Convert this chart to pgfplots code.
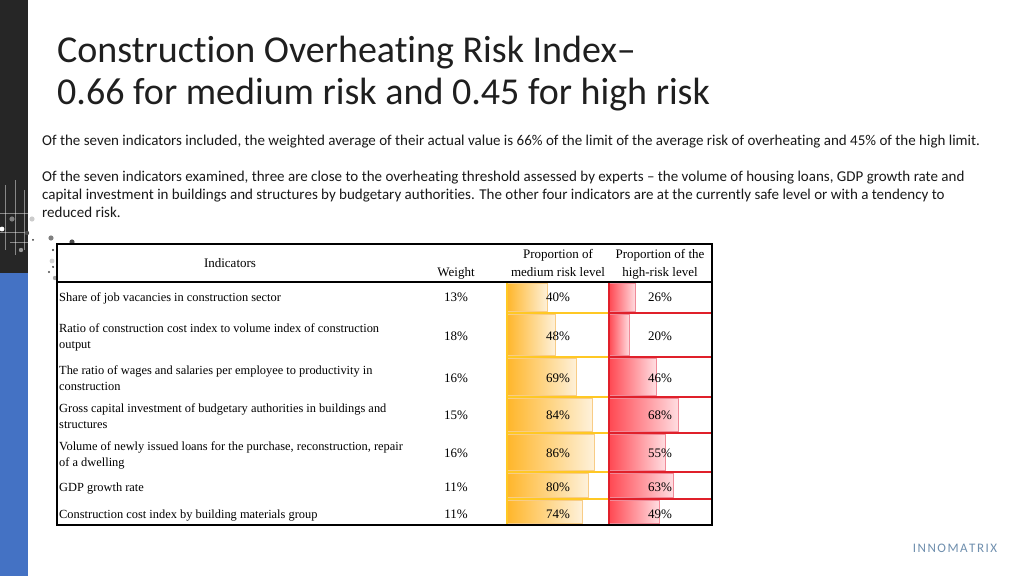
\documentclass[border=0pt]{standalone}
\usepackage{fontspec}
\setmainfont{Carlito}[Ligatures={NoCommon}]
\newfontfamily\tnr{Liberation Serif}
\usepackage{pgfplots}
\pgfplotsset{compat=1.18}
\definecolor{darkbar}{HTML}{262626}
\definecolor{bluebar}{HTML}{4472C4}
\definecolor{medL}{HTML}{FFB62A}
\definecolor{medR}{HTML}{FEF1DA}
\definecolor{medB}{HTML}{F8CC86}
\definecolor{hiL}{HTML}{FF4852}
\definecolor{hiR}{HTML}{FFDDE1}
\definecolor{hiB}{HTML}{F08A98}
\definecolor{sepY}{HTML}{FFC824}
\definecolor{sepR}{HTML}{E0202A}
\definecolor{logoc}{HTML}{6F8FAE}
\begin{document}
\begin{tikzpicture}[x=1pt,y=1pt]
\path[fill=white,use as bounding box] (0,0) rectangle (1024,576);
% left decoration
\fill[darkbar] (0,{576-273}) rectangle (28,576);
\fill[bluebar] (0,0) rectangle (28,{576-273});
\begin{scope}[white,opacity=0.45,line width=0.4pt]
\draw (5,{576-185}) -- (5,{576-250});
\draw (15,{576-180}) -- (15,{576-255});
\draw (24,{576-190}) -- (24,{576-250});
\draw (0,{576-213}) -- (30,{576-213});
\draw (0,{576-232}) -- (28,{576-232});
\draw (10,{576-242}) -- (28,{576-242});
\end{scope}
\fill[white] (2,{576-229}) circle (2.4);
\foreach \px/\py/\r/\c in {12/219/2.6/gray,32/219/2.6/gray!40,27/233/2.2/black!70,33/240/1.0/black!80,21/250/2.2/gray!80,51/238/2.6/gray,72/242/2.6/black!70,53/250/1.1/black!80,52/261/2.4/gray!35,49/272/1.1/black!70,55/278/2.2/gray!70,53/267/1.0/black!80}{
  \fill[\c] (\px,{576-\py}) circle (\r);
}
% title
\node[anchor=base west,inner sep=0pt,text=black!88,font=\fontsize{38}{44}\selectfont] at (57,{576-63}) {Construction Overheating Risk Index–};
\node[anchor=base west,inner sep=0pt,text=black!88,font=\fontsize{38}{44}\selectfont] at (57,{576-105}) {0.66 for medium risk and 0.45 for high risk};
% paragraphs
\begin{scope}[every node/.style={anchor=base west,inner sep=0pt,text=black!90,font=\fontsize{15}{18}\selectfont}]
\node at (42,{576-146}) {Of the seven indicators included, the weighted average of their actual value is 66\% of the limit of the average risk of overheating and 45\% of the high limit.};
\node at (42,{576-182}) {Of the seven indicators examined, three are close to the overheating threshold assessed by experts -- the volume of housing loans, GDP growth rate and};
\node at (42,{576-200}) {capital investment in buildings and structures by budgetary authorities. The other four indicators are at the currently safe level or with a tendency to};
\node at (42,{576-218}) {reduced risk.};
\end{scope}
% bars
\begin{axis}[at={(507pt,294pt)},anchor=north west,scale only axis,width=102pt,height=243pt,
  xmin=0,xmax=101,ymin=282,ymax=525,y dir=reverse,hide axis,clip=false]
\addplot[xbar,bar shift=0pt,bar width=28,left color=medL,right color=medR,draw=medB] coordinates {(40,297)};
\addplot[xbar,bar shift=0pt,bar width=41,left color=medL,right color=medR,draw=medB] coordinates {(48,334.5)};
\addplot[xbar,bar shift=0pt,bar width=37,left color=medL,right color=medR,draw=medB] coordinates {(69,376.5)};
\addplot[xbar,bar shift=0pt,bar width=33,left color=medL,right color=medR,draw=medB] coordinates {(84,414.5)};
\addplot[xbar,bar shift=0pt,bar width=36,left color=medL,right color=medR,draw=medB] coordinates {(86,452)};
\addplot[xbar,bar shift=0pt,bar width=24,left color=medL,right color=medR,draw=medB] coordinates {(80,485)};
\addplot[xbar,bar shift=0pt,bar width=23,left color=medL,right color=medR,draw=medB] coordinates {(74,511.5)};
\end{axis}
\begin{axis}[at={(609pt,294pt)},anchor=north west,scale only axis,width=103pt,height=243pt,
  xmin=0,xmax=101,ymin=282,ymax=525,y dir=reverse,hide axis,clip=false]
\addplot[xbar,bar shift=0pt,bar width=28,left color=hiL,right color=hiR,draw=hiB] coordinates {(26,297)};
\addplot[xbar,bar shift=0pt,bar width=41,left color=hiL,right color=hiR,draw=hiB] coordinates {(20,334.5)};
\addplot[xbar,bar shift=0pt,bar width=37,left color=hiL,right color=hiR,draw=hiB] coordinates {(46,376.5)};
\addplot[xbar,bar shift=0pt,bar width=33,left color=hiL,right color=hiR,draw=hiB] coordinates {(68,414.5)};
\addplot[xbar,bar shift=0pt,bar width=36,left color=hiL,right color=hiR,draw=hiB] coordinates {(55,452)};
\addplot[xbar,bar shift=0pt,bar width=24,left color=hiL,right color=hiR,draw=hiB] coordinates {(63,485)};
\addplot[xbar,bar shift=0pt,bar width=23,left color=hiL,right color=hiR,draw=hiB] coordinates {(49,511.5)};
\end{axis}
% grid lines in data columns
\foreach \py in {313,357,397,433,472,499}{
  \draw[sepY,line width=1.2pt] (507,{576-\py}) -- (609,{576-\py});
  \draw[sepR,line width=1.2pt] (609,{576-\py}) -- (712,{576-\py});
}
\draw[sepY,line width=1.2pt] (507,{576-282}) -- (507,{576-525});
\draw[sepR,line width=1.2pt] (609,{576-282}) -- (609,{576-525});
% table frame
\draw[black,line width=1.3pt] (57,{576-244}) rectangle (712,{576-525});
\draw[black,line width=1.3pt] (57,{576-282}) -- (712,{576-282});
% header
\begin{scope}[every node/.style={anchor=mid,inner sep=0pt,font=\tnr\fontsize{13}{15}\selectfont}]
\node at (230,{576-265}) {Indicators};
\node at (456,{576-274}) {Weight};
\node at (558,{576-256}) {Proportion of};
\node at (558,{576-274}) {medium risk level};
\node at (660,{576-256}) {Proportion of the};
\node at (660,{576-274}) {high-risk level};
\end{scope}
% rows
\begin{scope}[every node/.style={anchor=mid west,inner sep=0pt,font=\tnr\fontsize{12.4}{14}\selectfont}]
\node at (59,{576-299}) {Share of job vacancies in construction sector};
\node at (59,{576-330}) {Ratio of construction cost index to volume index of construction};
\node at (59,{576-346}) {output};
\node at (59,{576-372}) {The ratio of wages and salaries per employee to productivity in};
\node at (59,{576-388}) {construction};
\node at (59,{576-410}) {Gross capital investment of budgetary authorities in buildings and};
\node at (59,{576-426}) {structures};
\node at (59,{576-448}) {Volume of newly issued loans for the purchase, reconstruction, repair};
\node at (59,{576-464}) {of a dwelling};
\node at (59,{576-489}) {GDP growth rate};
\node at (59,{576-516}) {Construction cost index by building materials group};
\end{scope}
\begin{scope}[every node/.style={anchor=mid,inner sep=0pt,font=\tnr\fontsize{13}{15}\selectfont}]
\foreach \py/\w/\m/\h in {299/13/40/26,338/18/48/20,380/16/69/46,417/15/84/68,455/16/86/55,489/11/80/63,516/11/74/49}{
  \node at (456,{576-\py}) {\w\%};
  \node at (558,{576-\py}) {\m\%};
  \node at (660,{576-\py}) {\h\%};
}
\end{scope}
% logo
\node[anchor=mid,inner sep=0pt,text=logoc,font=\fontsize{13}{13}\selectfont] at (955,{576-550}) {I\kern1.5pt N\kern1.5pt N\kern1.5pt O\kern1.5pt M\kern1.5pt A\kern1.5pt T\kern1.5pt R\kern1.5pt I\kern1.5pt X};
\end{tikzpicture}
\end{document}
